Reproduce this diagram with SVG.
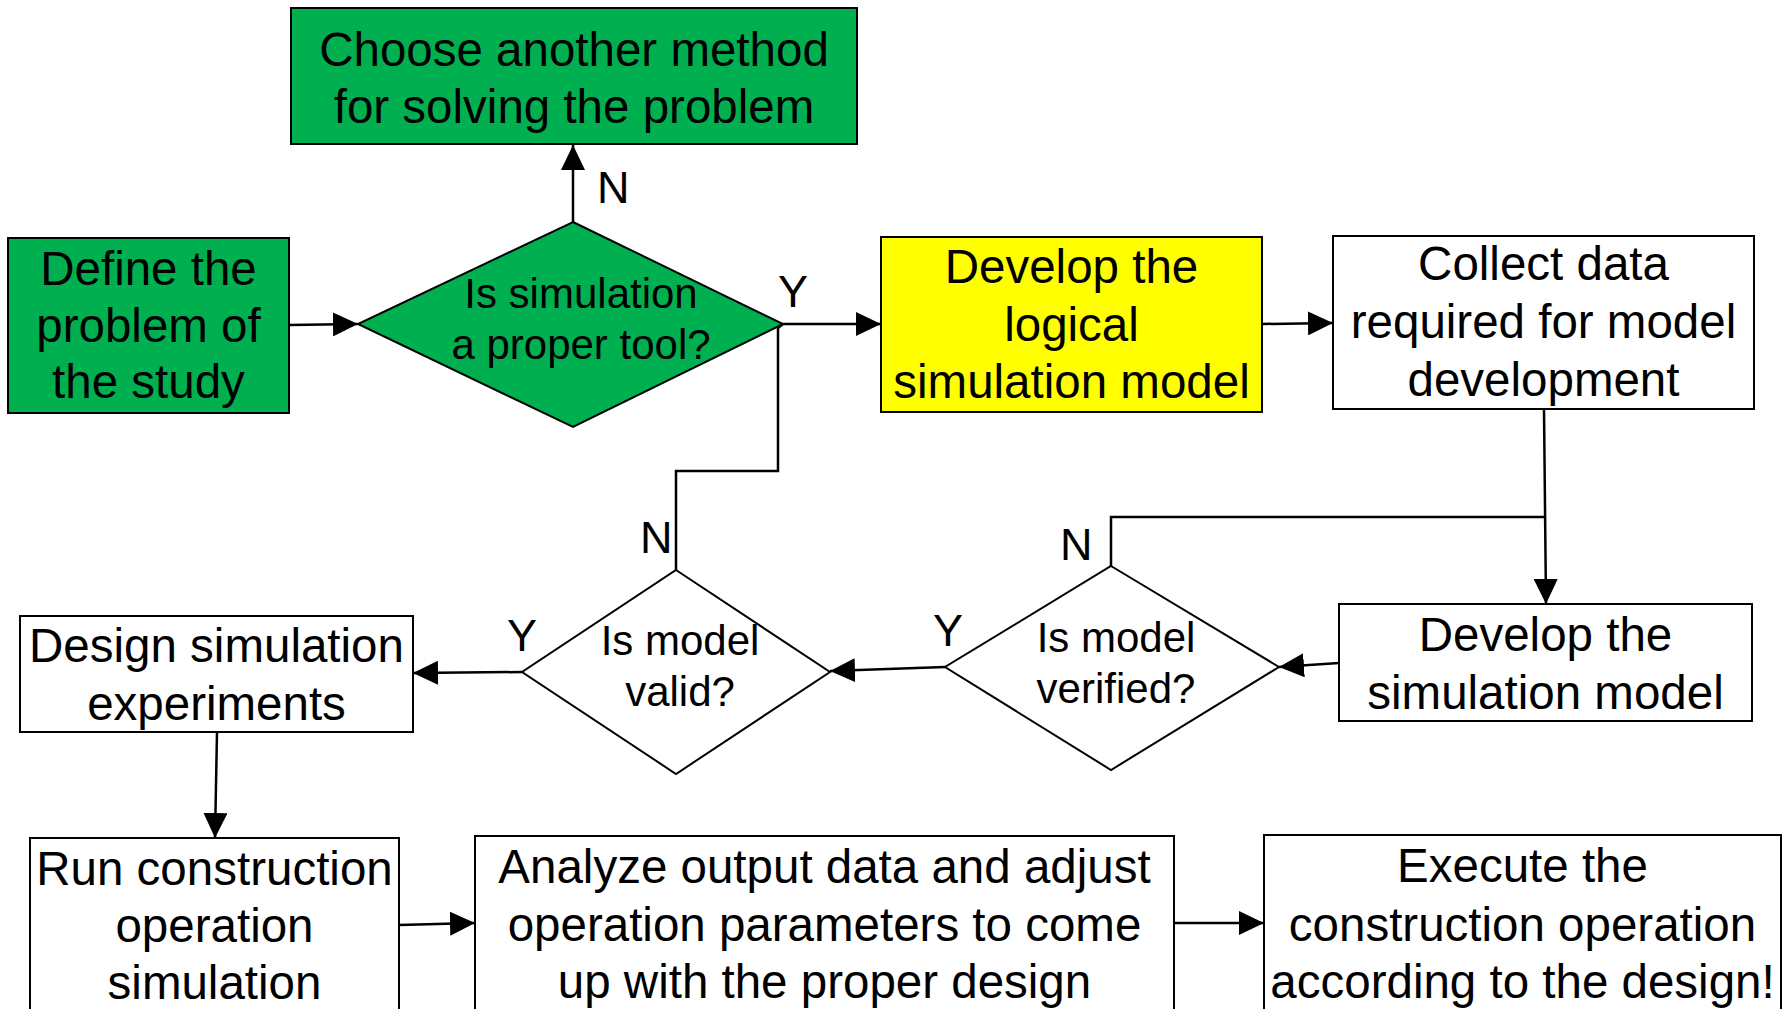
<svg xmlns="http://www.w3.org/2000/svg" width="1790" height="1009" viewBox="0 0 1790 1009">
<style>
.box{stroke:#000;stroke-width:2}
.g{fill:#00B050}
.y{fill:#FFFF00}
.w{fill:#fff}
.t{font-family:"Liberation Sans",Arial,sans-serif;font-size:47.5px;fill:#000;text-anchor:middle}
.d{font-family:"Liberation Sans",Arial,sans-serif;font-size:42px;fill:#000;text-anchor:middle}
.l{font-family:"Liberation Sans",Arial,sans-serif;font-size:45px;fill:#000}
.c{fill:none;stroke:#000;stroke-width:2.5}
</style>
<defs>
<marker id="ah" markerUnits="userSpaceOnUse" markerWidth="26" markerHeight="24" refX="25" refY="12" orient="auto">
<path d="M0,0 L25,12 L0,24 z" fill="#000"/>
</marker>
</defs>
<rect width="1790" height="1009" fill="#fff"/>
<g id="connectors">
<line class="c" x1="289" y1="325" x2="358" y2="324" marker-end="url(#ah)"/>
<line class="c" x1="573" y1="222" x2="573" y2="145" marker-end="url(#ah)"/>
<line class="c" x1="783" y1="324" x2="881" y2="324" marker-end="url(#ah)"/>
<polyline class="c" points="783,324 778,328 778,471 676,471 676,570"/>
<line class="c" x1="1262" y1="324" x2="1333" y2="323" marker-end="url(#ah)"/>
<line class="c" x1="1544" y1="409" x2="1546" y2="604" marker-end="url(#ah)"/>
<polyline class="c" points="1111,566 1111,517 1545,517"/>
<line class="c" x1="1339" y1="663" x2="1279" y2="667" marker-end="url(#ah)"/>
<line class="c" x1="945" y1="667" x2="830" y2="671" marker-end="url(#ah)"/>
<line class="c" x1="522" y1="672" x2="413" y2="673" marker-end="url(#ah)"/>
<line class="c" x1="217" y1="732" x2="215" y2="838" marker-end="url(#ah)"/>
<line class="c" x1="399" y1="925" x2="475" y2="923" marker-end="url(#ah)"/>
<line class="c" x1="1174" y1="923" x2="1264" y2="923" marker-end="url(#ah)"/>
<text class="l" x="597" y="203">N</text>
<text class="l" x="778" y="307">Y</text>
<text class="l" x="640" y="553">N</text>
<text class="l" x="507" y="651">Y</text>
<text class="l" x="1060" y="560">N</text>
<text class="l" x="933" y="646">Y</text>
</g>
<g id="choose">
<rect class="box g" x="291" y="8" width="566" height="136"/>
<text class="t" x="574" y="66">Choose another method</text>
<text class="t" x="574" y="123">for solving the problem</text>
</g>
<g id="define">
<rect class="box g" x="8" y="238" width="281" height="175"/>
<text class="t" x="148.5" y="285">Define the</text>
<text class="t" x="148.5" y="342">problem of</text>
<text class="t" x="148.5" y="398">the study</text>
</g>
<g id="is-simulation">
<polygon class="box g" points="573,222 783,324 573,427 358,324"/>
<text class="d" x="581" y="308">Is simulation</text>
<text class="d" x="581" y="359">a proper tool?</text>
</g>
<g id="logical-model">
<rect class="box y" x="881" y="237" width="381" height="175"/>
<text class="t" x="1071.5" y="283">Develop the</text>
<text class="t" x="1071.5" y="341">logical</text>
<text class="t" x="1071.5" y="398">simulation model</text>
</g>
<g id="collect">
<rect class="box w" x="1333" y="236" width="421" height="173"/>
<text class="t" x="1543.5" y="280">Collect data</text>
<text class="t" x="1543.5" y="338">required for model</text>
<text class="t" x="1543.5" y="396">development</text>
</g>
<g id="develop-sim">
<rect class="box w" x="1339" y="604" width="413" height="117"/>
<text class="t" x="1545.5" y="651">Develop the</text>
<text class="t" x="1545.5" y="709">simulation model</text>
</g>
<g id="verified">
<polygon class="box w" points="1111,566 1279,667 1111,770 945,667"/>
<text class="d" x="1116" y="652">Is model</text>
<text class="d" x="1116" y="703">verified?</text>
</g>
<g id="valid">
<polygon class="box w" points="676,570 830,672 676,774 522,672"/>
<text class="d" x="680" y="655">Is model</text>
<text class="d" x="680" y="706">valid?</text>
</g>
<g id="design">
<rect class="box w" x="20" y="616" width="393" height="116"/>
<text class="t" x="216.5" y="662">Design simulation</text>
<text class="t" x="216.5" y="720">experiments</text>
</g>
<g id="run">
<rect class="box w" x="30" y="838" width="369" height="200"/>
<text class="t" x="214.5" y="885">Run construction</text>
<text class="t" x="214.5" y="942">operation</text>
<text class="t" x="214.5" y="999">simulation</text>
</g>
<g id="analyze">
<rect class="box w" x="475" y="836" width="699" height="200"/>
<text class="t" x="824.5" y="883">Analyze output data and adjust</text>
<text class="t" x="824.5" y="941">operation parameters to come</text>
<text class="t" x="824.5" y="998">up with the proper design</text>
</g>
<g id="execute">
<rect class="box w" x="1264" y="835" width="517" height="200"/>
<text class="t" x="1522.5" y="882">Execute the</text>
<text class="t" x="1522.5" y="941">construction operation</text>
<text class="t" x="1522.5" y="998">according to the design!</text>
</g>
</svg>
